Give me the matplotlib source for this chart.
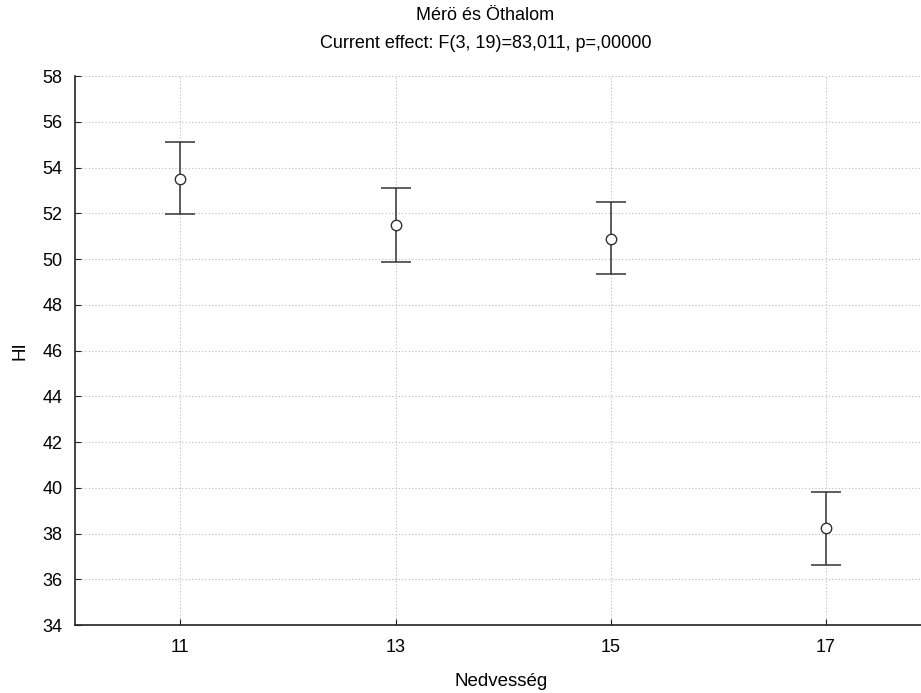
import numpy as np
import matplotlib
matplotlib.use('Agg')
import matplotlib.pyplot as plt

# data
categories = ['11', '13', '15', '17']
means = [53.52, 51.49, 50.87, 38.22]
upper = [55.11, 53.10, 52.49, 39.80]
lower = [51.96, 49.88, 49.33, 36.63]

plt.rcParams['font.family'] = ['Liberation Sans', 'DejaVu Sans']

fig = plt.figure(figsize=(9.21, 6.93), dpi=100)
ax = fig.add_axes([0.0814, 0.0981, 0.925, 0.7922])

x = np.arange(len(categories))
yerr = [np.array(means) - np.array(lower), np.array(upper) - np.array(means)]
ax.errorbar(x, means, yerr=yerr, fmt='o', color='#333333', ecolor='#333333',
            mfc='white', mec='#333333', ms=7.5, elinewidth=1.1, capsize=11,
            capthick=1.1, zorder=3)

ax.set_xlim(-0.49, 3.47)
ax.set_ylim(34, 58)
ax.set_yticks(np.arange(34, 59, 2))
ax.set_xticks(x)
ax.set_xticklabels(categories)
ax.tick_params(direction='in', length=4, width=0.8, labelsize=13, colors='#222222',
               labelcolor='black')
ax.tick_params(axis='x', pad=10)
ax.tick_params(axis='y', pad=9)

ax.grid(True, linestyle=(0, (1, 2)), color='#bbbbbb', linewidth=0.8)
ax.set_axisbelow(True)
for s in ['top', 'right']:
    ax.spines[s].set_visible(False)
for s in ['left', 'bottom']:
    ax.spines[s].set_linewidth(1.2)
    ax.spines[s].set_color('#222222')

ax.set_xlabel('Nedvesség', fontsize=13.5, labelpad=12)
ax.set_ylabel('HI', fontsize=13.5, labelpad=10)
# title block sits a bit right of the figure centre in the original
fig.text(0.527, 0.978, 'Mérö és Öthalom', ha='center', va='center', fontsize=13)
fig.text(0.527, 0.937, 'Current effect: F(3, 19)=83,011, p=,00000', ha='center',
         va='center', fontsize=13)

fig.savefig('out.png', dpi=100)
